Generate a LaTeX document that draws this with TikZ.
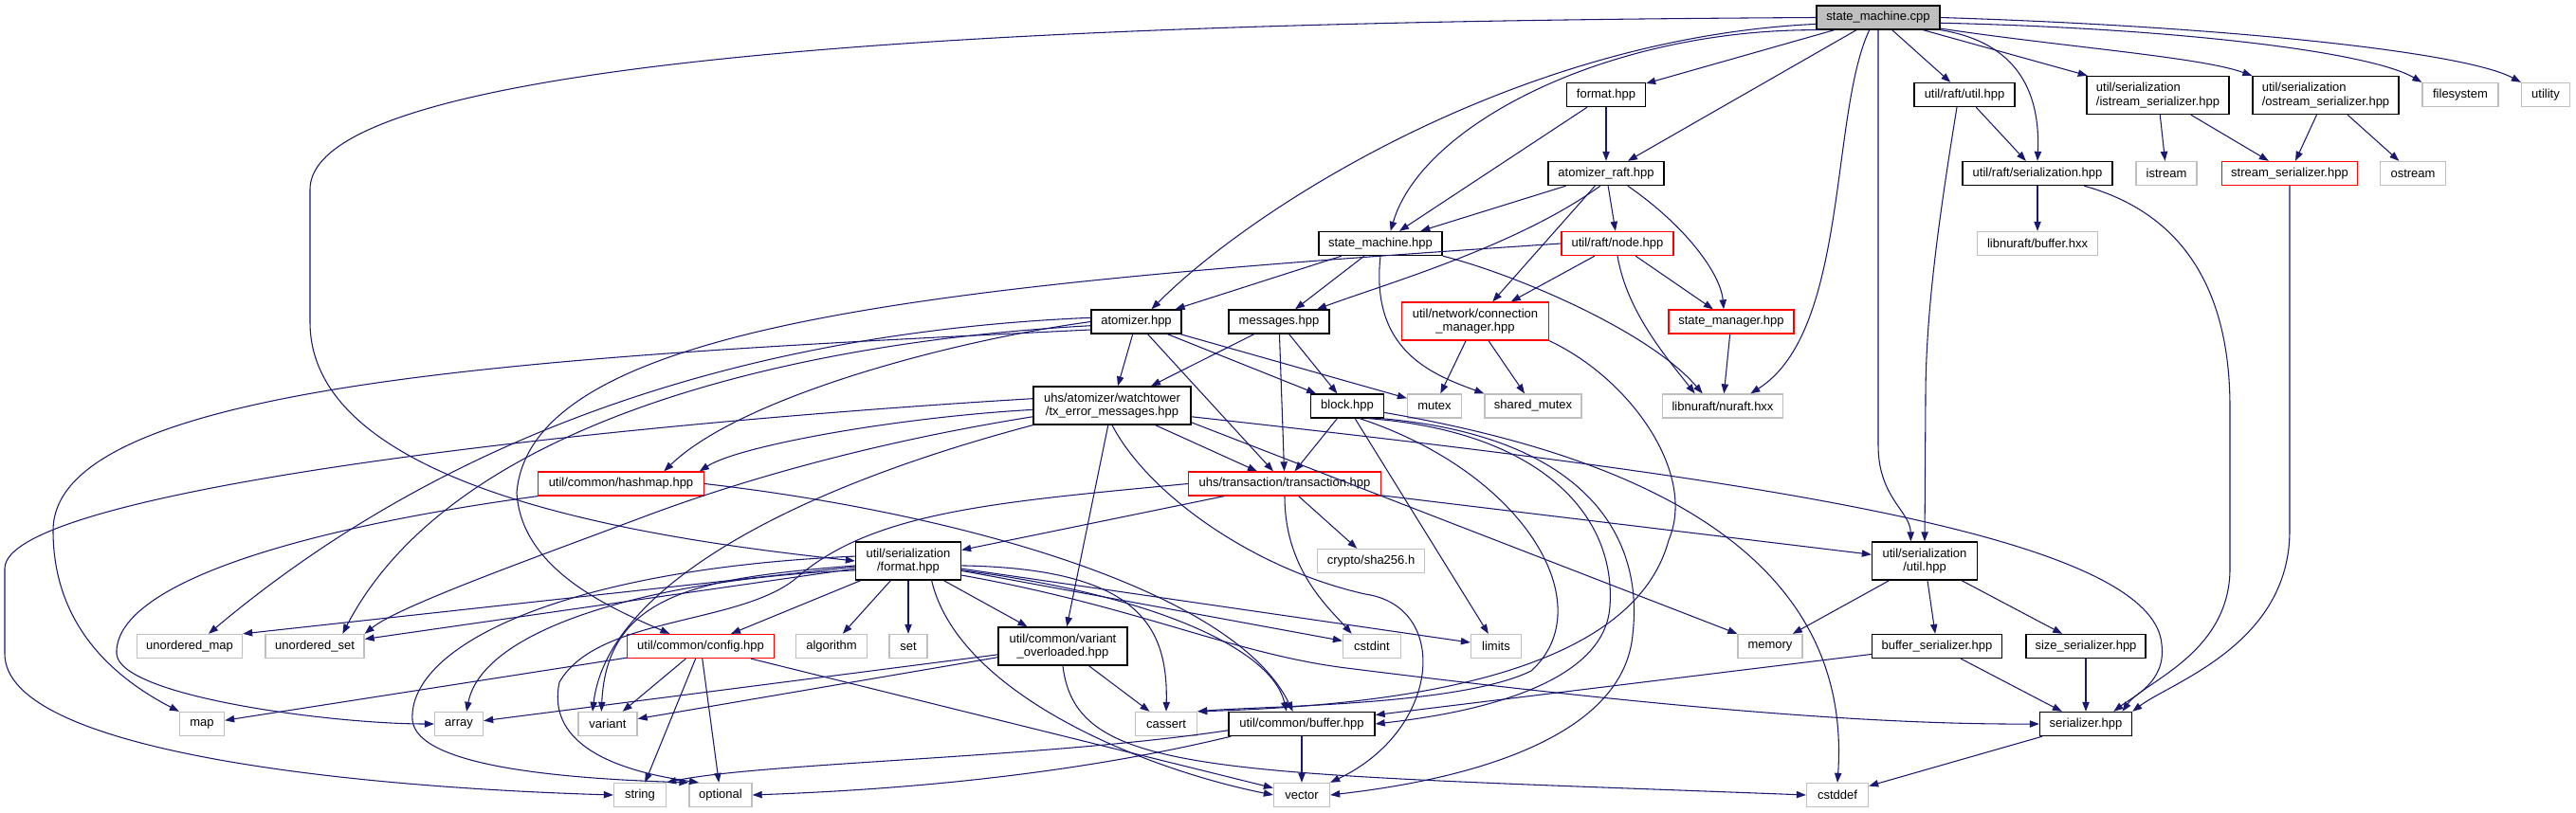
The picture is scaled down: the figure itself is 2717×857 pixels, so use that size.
\documentclass[tikz,border=0pt]{standalone}
\usepackage{fontspec}
\setmainfont{Liberation Sans}
\usetikzlibrary{arrows.meta}
\definecolor{edgeblue}{HTML}{191970}
\definecolor{sysgray}{HTML}{BFBFBF}
\definecolor{truncred}{HTML}{FF0000}

\begin{document}
\begin{tikzpicture}[x=0.75pt, y=-0.75pt, font=\fontsize{9.75}{11}\selectfont,
	hdr/.style={draw=black, line width=1pt, fill=white, inner sep=1pt, minimum height=18.75pt, align=center},
	trunc/.style={hdr, draw=truncred},
	sys/.style={hdr, draw=sysgray},
	two/.style={minimum height=30pt},
	wd/.style={minimum width=#1*0.75pt},
	incl/.style={draw=edgeblue, line width=0.8pt, -{Triangle[length=7.5pt,width=5.5pt]}}]
	\useasboundingbox (0,0) rectangle (2717,857);

	\node[hdr, fill=sysgray, wd=130] (smcpp) at (1981,18.5) {state\_machine.cpp};
	\node[hdr, wd=83] (fmt) at (1694,100) {format.hpp};
	\node[hdr, wd=106] (raftutil) at (2072,100) {util/raft/util.hpp};
	\node[hdr, two, wd=150, align=left] (istrser) at (2276,100.5) {util/serialization\\/istream\_serializer.hpp};
	\node[hdr, two, wd=154, align=left] (ostrser) at (2453,100.5) {util/serialization\\/ostream\_serializer.hpp};
	\node[sys, wd=80] (filesystem) at (2595,100) {filesystem};
	\node[sys, wd=51] (utility) at (2685,100) {utility};
	\node[hdr, wd=122] (atraft) at (1694,183) {atomizer\_raft.hpp};
	\node[hdr, wd=158] (raftser) at (2149,183) {util/raft/serialization.hpp};
	\node[sys, wd=64] (istream) at (2285,183) {istream};
	\node[trunc, wd=143] (strser) at (2415,183) {stream\_serializer.hpp};
	\node[sys, wd=69] (ostream) at (2545,183) {ostream};
	\node[hdr, wd=130] (smhpp) at (1456,257) {state\_machine.hpp};
	\node[trunc, wd=118] (raftnode) at (1706,257) {util/raft/node.hpp};
	\node[sys, wd=127] (bufhxx) at (2149,257) {libnuraft/buffer.hxx};
	\node[hdr, wd=95] (atom) at (1198.5,339.5) {atomizer.hpp};
	\node[hdr, wd=106] (msgs) at (1349,339.5) {messages.hpp};
	\node[trunc, two, wd=155] (connmgr) at (1556,339) {util/network/connection\\\_manager.hpp};
	\node[trunc, wd=132] (stmgr) at (1826,339.5) {state\_manager.hpp};
	\node[hdr, two, wd=166] (txerr) at (1173,428) {uhs/atomizer/watchtower\\/tx\_error\_messages.hpp};
	\node[hdr, wd=77] (block) at (1421,428.5) {block.hpp};
	\node[sys, wd=57] (mutex) at (1513,428.5) {mutex};
	\node[sys, wd=102] (shmutex) at (1617,428.5) {shared\_mutex};
	\node[sys, wd=127] (nuraft) at (1817,428.5) {libnuraft/nuraft.hxx};
	\node[trunc, wd=175] (hashmap) at (655,510.5) {util/common/hashmap.hpp};
	\node[trunc, wd=203] (tx) at (1355,510.5) {uhs/transaction/transaction.hpp};
	\node[hdr, two, wd=111] (serfmt) at (958,592) {util/serialization\\/format.hpp};
	\node[sys, wd=113] (sha) at (1446,592) {crypto/sha256.h};
	\node[hdr, two, wd=111] (serutil) at (2030,592) {util/serialization\\/util.hpp};
	\node[sys, wd=111] (umap) at (200,682) {unordered\_map};
	\node[sys, wd=104] (uset) at (332,682) {unordered\_set};
	\node[trunc, wd=155] (config) at (739,682) {util/common/config.hpp};
	\node[sys, wd=75] (algorithm) at (877,682) {algorithm};
	\node[sys, wd=40] (set) at (958,682) {set};
	\node[hdr, two, wd=136] (varov) at (1121,682) {util/common/variant\\\_overloaded.hpp};
	\node[sys, wd=61] (cstdint) at (1447,682) {cstdint};
	\node[sys, wd=53] (limits) at (1578,682) {limits};
	\node[sys, wd=68] (memory) at (1867,682) {memory};
	\node[hdr, wd=137] (bufser) at (2043,682) {buffer\_serializer.hpp};
	\node[hdr, wd=126] (sizeser) at (2200,682) {size\_serializer.hpp};
	\node[sys, wd=47] (map) at (213,764) {map};
	\node[sys, wd=51] (array) at (484,764) {array};
	\node[sys, wd=62] (variant) at (641,764) {variant};
	\node[sys, wd=65] (cassert) at (1230,764) {cassert};
	\node[hdr, wd=154] (buffer) at (1373,764) {util/common/buffer.hpp};
	\node[hdr, wd=97] (serializer) at (2200,764) {serializer.hpp};
	\node[sys, wd=55] (string) at (675,839) {string};
	\node[sys, wd=66] (optional) at (760,839) {optional};
	\node[sys, wd=59] (vector) at (1373,839) {vector};
	\node[sys, wd=65] (cstddef) at (1938,839) {cstddef};

	\foreach \a/\b in {smcpp/fmt, smcpp/atraft, smcpp/raftutil, smcpp/istrser,
		fmt/atraft, fmt/smhpp, atraft/smhpp, atraft/connmgr, atraft/raftnode,
		raftutil/raftser, istrser/istream, istrser/strser, ostrser/strser, ostrser/ostream,
		raftser/bufhxx, smhpp/atom, smhpp/msgs, raftnode/connmgr, raftnode/stmgr,
		connmgr/mutex, connmgr/shmutex, stmgr/nuraft,
		atom/txerr, atom/block, atom/mutex, atom/tx, msgs/txerr, msgs/block, msgs/tx,
		txerr/tx, txerr/varov, block/tx, block/limits, tx/serfmt, tx/serutil, tx/sha,
		serfmt/config, serfmt/algorithm, serfmt/set, serfmt/varov, serfmt/cstdint, serfmt/limits, serfmt/uset,
		serutil/memory, serutil/bufser, serutil/sizeser,
		config/map, config/variant, config/string, config/optional, config/vector,
		varov/array, varov/variant, varov/cassert,
		bufser/buffer, bufser/serializer, sizeser/serializer, buffer/vector, serializer/cstddef}
	{
		\draw[incl] (\a) -- (\b);
	}

	\draw[incl] (smcpp.west) .. controls (1300,22) and (327,40) .. (327,200) -- (327,340) .. controls (327,520) and (700,570) .. (serfmt.west);
	\draw[incl] (smcpp.186) .. controls (1600,40) and (1320,220) .. ([xshift=12pt]atom.north);
	\draw[incl] (smcpp.192) .. controls (1700,30) and (1500,130) .. ([xshift=8pt]smhpp.north);
	\draw[incl] ([xshift=-7pt]smcpp.south) .. controls (1930,120) and (1950,350) .. ([xshift=22pt]nuraft.north);
	\draw[incl] (smcpp.south) -- (1981,470) .. controls (1981,525) and (2015,540) .. ([xshift=-11pt]serutil.north);
	\draw[incl] (smcpp.south east) .. controls (2130,45) and (2152,100) .. (raftser.north);
	\draw[incl] (smcpp.-10) .. controls (2180,50) and (2320,60) .. (ostrser.north west);
	\draw[incl] (smcpp.-5) .. controls (2300,30) and (2500,55) .. (filesystem.north west);
	\draw[incl] (smcpp.east) .. controls (2350,28) and (2600,55) .. (utility.north west);

	\draw[incl] (atraft.-115) .. controls (1600,260) and (1460,300) .. ([xshift=30pt]msgs.north);
	\draw[incl] (atraft.-30) .. controls (1780,240) and (1815,290) .. ([xshift=-6pt]stmgr.north);
	\draw[incl] (raftnode.south) .. controls (1716,330) and (1760,380) .. ([xshift=-22pt]nuraft.north);
	\draw[incl] (smhpp.south east) .. controls (1600,290) and (1740,350) .. ([xshift=-16pt]nuraft.north);
	\draw[incl] (smhpp.south) .. controls (1445,370) and (1510,395) .. (shmutex.north west);
	\draw[incl] (raftnode.west) .. controls (1000,300) and (560,340) .. (545,520) .. controls (550,600) and (640,640) .. (config.158);
	\draw[incl] (connmgr.south east) .. controls (1720,400) and (1790,500) .. (1760,570) .. controls (1720,720) and (1450,745) .. (cassert.north east);

	\draw[incl] ([xshift=-6pt]raftutil.south) .. controls (2045,230) and (2031,330) .. (2031,420) -- (serutil.north);
	\draw[incl] (raftser.-15) .. controls (2320,230) and (2352,330) .. (2352,430) -- (2352,600) .. controls (2352,690) and (2260,720) .. ([xshift=-8pt]serializer.north east);
	\draw[incl] (strser.south) -- (2415,560) .. controls (2415,680) and (2290,720) .. (serializer.north east);

	\draw[incl] (atom.west) .. controls (1000,360) and (780,420) .. ([xshift=34pt]hashmap.north);
	\draw[incl] (atom.175) .. controls (800,350) and (480,450) .. ([xshift=15pt]umap.north);
	\draw[incl] (atom.185) .. controls (850,360) and (480,440) .. ([xshift=22pt]uset.north);
	\draw[incl] (atom.190) .. controls (600,375) and (56,400) .. (56,560) .. controls (56,660) and (120,715) .. (map.north west);

	\draw[incl] (txerr.175) .. controls (600,450) and (5,520) .. (5,600) -- (5,690) .. controls (5,790) and (350,830) .. (string.west);
	\draw[incl] (txerr.183) .. controls (950,440) and (780,470) .. ([xshift=-4pt]hashmap.north east);
	\draw[incl] (txerr.188) .. controls (900,470) and (760,515) .. (680,545) .. controls (560,590) and (420,640) .. (uset.north east);
	\draw[incl] (txerr.south west) .. controls (820,520) and (640,625) .. ([xshift=-12pt]variant.north);
	\draw[incl] (txerr.south) .. controls (1210,520) and (1320,600) .. (1440,627) .. controls (1530,640) and (1520,770) .. (vector.north east);
	\draw[incl] (txerr.-8) .. controls (1800,500) and (2270,560) .. (2280,680) .. controls (2285,720) and (2250,735) .. ([xshift=22pt]serializer.north);
	\draw[incl] (txerr.-12) -- (memory.north west);

	\draw[incl] (block.-45) .. controls (1610,500) and (1690,640) .. (1615,708) .. controls (1540,745) and (1330,745) .. (cassert.north east);
	\draw[incl] (block.-30) .. controls (1620,455) and (1705,540) .. (1698,640) .. controls (1692,730) and (1530,755) .. (buffer.east);
	\draw[incl] (block.-20) .. controls (1665,460) and (1735,560) .. (1722,670) .. controls (1710,800) and (1480,830) .. (vector.east);
	\draw[incl] (block.-10) .. controls (1720,480) and (1955,580) .. (cstddef.north);

	\draw[incl] (hashmap.east) .. controls (1000,540) and (1300,620) .. ([xshift=-7pt]buffer.north);
	\draw[incl] (hashmap.south west) .. controls (300,560) and (120,620) .. (123,690) .. controls (126,735) and (350,764) .. (array.west);

	\draw[incl] (tx.south) .. controls (1355,600) and (1400,640) .. ([xshift=-16pt]cstdint.north);
	\draw[incl] (tx.west) .. controls (1050,530) and (920,540) .. (840,610) .. controls (780,660) and (630,650) .. (590,720) .. controls (575,790) and (660,815) .. ([xshift=8pt]optional.north west);

	\draw[incl] (serfmt) -- (umap.north east);
	\draw[incl] (serfmt.-5) .. controls (1200,600) and (1232,660) .. (cassert.north);
	\draw[incl] (serfmt.-10) .. controls (1200,625) and (1340,680) .. ([xshift=-12pt]buffer.north);
	\draw[incl] (serfmt.-15) .. controls (1200,640) and (1300,690) .. (1420,705) .. controls (1700,740) and (1950,765) .. (serializer.west);
	\draw[incl] (serfmt.-40) .. controls (1010,730) and (1200,810) .. (vector.west);
	\draw[incl] (serfmt.190) .. controls (700,610) and (510,660) .. ([xshift=6pt]array.north);
	\draw[incl] (serfmt.185) .. controls (740,610) and (640,625) .. ([xshift=-5pt]variant.north);
	\draw[incl] (serfmt.175) .. controls (600,600) and (430,680) .. (435,760) .. controls (440,810) and (600,822) .. (optional.north west);

	\draw[incl] (varov.south) .. controls (1135,820) and (1280,815) .. (cstddef.west);
	\draw[incl] (buffer.185) .. controls (1100,800) and (800,805) .. (string.north east);
	\draw[incl] (buffer.190) .. controls (1100,825) and (900,835) .. (optional.east);
\end{tikzpicture}
\end{document}
